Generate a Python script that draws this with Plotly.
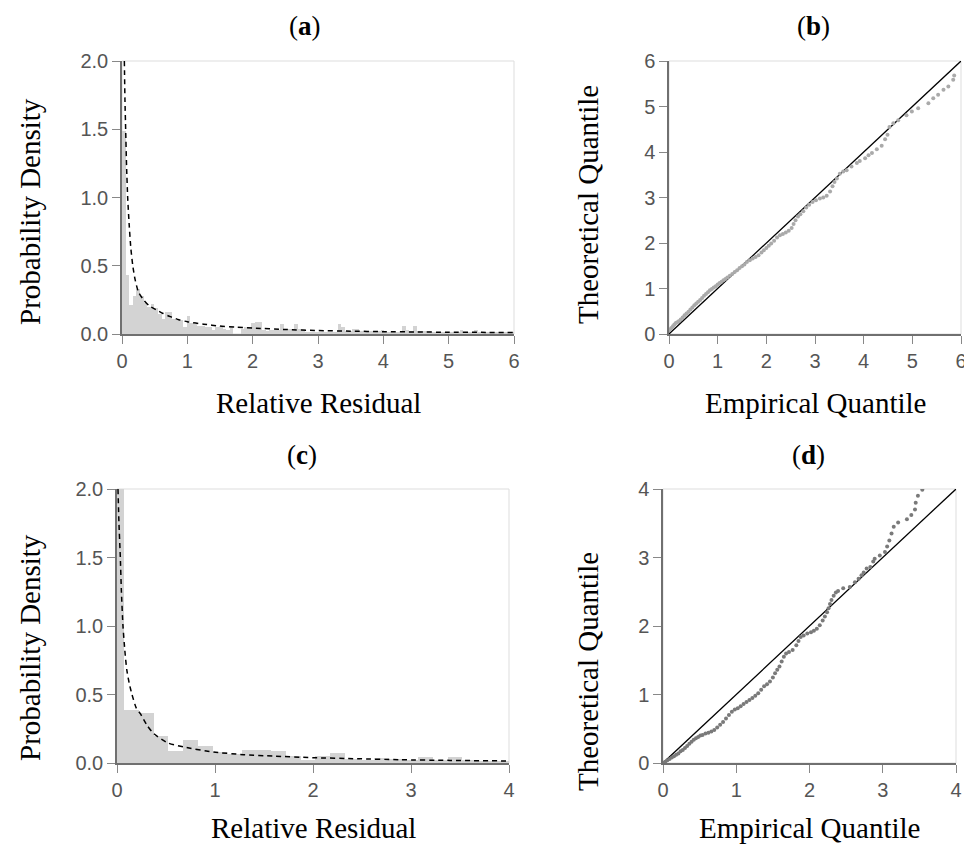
import numpy as np
import plotly.graph_objects as go

W, H = 964, 845

# ---------------- data ----------------
# (a) histogram of relative residual, bin width ~0.055 starting at 0
hist_a_width = 0.055
hist_a_heights = [
    1.49, 0.43, 0.21, 0.28, 0.33, 0.28, 0.23, 0.20, 0.22, 0.19,
    0.15, 0.11, 0.16, 0.16, 0.11, 0.10, 0.10, 0.05, 0.13, 0.08,
    0.07, 0.06, 0.06, 0.05, 0.05, 0.03, 0.05, 0.06, 0.04, 0.03,
    0.05, 0.00, 0.00, 0.04, 0.05, 0.05, 0.08, 0.085, 0.085, 0.03,
    0.02, 0.03, 0.03, 0.03, 0.07, 0.035, 0.035, 0.035, 0.073, 0.035,
    0.035, 0.017, 0.017, 0.017, 0.017, 0.017, 0.017, 0.017, 0.017, 0.017,
    0.073, 0.05, 0.02, 0.02, 0.04, 0.04, 0.02, 0.02, 0.02, 0.02,
    0.02, 0.02, 0.03, 0.017, 0.017, 0.017, 0.017, 0.017, 0.06, 0.03,
    0.02, 0.06, 0.025, 0.025, 0.025, 0.025, 0.017, 0.017, 0.017, 0.017,
    0.017, 0.017, 0.017, 0.017, 0.03, 0.017, 0.017, 0.017, 0.03, 0.012,
    0.012, 0.012, 0.012, 0.012, 0.012, 0.012, 0.012, 0.012, 0.012,
]
# (a) fitted density curve
curve_a_x = [0.036, 0.045, 0.056, 0.07, 0.087, 0.11, 0.135, 0.165, 0.2, 0.25,
             0.33, 0.42, 0.53, 0.63, 0.74, 0.87, 1.0, 1.25, 1.5, 1.75, 2.0,
             2.5, 3.0, 3.5, 4.0, 4.5, 5.0, 5.5, 6.0]
curve_a_y = [2.0, 1.72, 1.5, 1.23, 1.0, 0.80, 0.63, 0.5, 0.4, 0.31,
             0.25, 0.205, 0.176, 0.15, 0.127, 0.105, 0.09, 0.072, 0.058, 0.05, 0.044,
             0.033, 0.025, 0.021, 0.017, 0.015, 0.013, 0.012, 0.011]

# (b) QQ plot: empirical vs theoretical quantile
qq_b_emp = [0.00, 0.02, 0.05, 0.08, 0.11, 0.14, 0.17, 0.20, 0.24, 0.28,
            0.32, 0.36, 0.40, 0.44, 0.48, 0.52, 0.56, 0.60, 0.64, 0.68,
            0.72, 0.76, 0.80, 0.84, 0.88, 0.92, 0.96, 1.00, 1.04, 1.08,
            1.12, 1.16, 1.20, 1.25, 1.30, 1.35, 1.40, 1.45, 1.50, 1.55,
            1.60, 1.66, 1.72, 1.78, 1.84, 1.90, 1.95, 2.00, 2.05, 2.10,
            2.16, 2.22, 2.28, 2.34, 2.40, 2.46, 2.52, 2.56, 2.60, 2.65,
            2.70, 2.76, 2.82, 2.88, 2.95, 3.02,
            3.10, 3.17, 3.24, 3.31, 3.36, 3.40, 3.45, 3.51, 3.58, 3.65,
            3.75, 3.86, 3.92, 4.03, 4.10, 4.17, 4.27, 4.37, 4.44, 4.49,
            4.53, 4.61, 4.71, 4.88, 4.99, 5.12, 5.33, 5.43, 5.53, 5.64,
            5.74, 5.84, 5.86]
qq_b_theo = [0.08, 0.10, 0.13, 0.17, 0.21, 0.24, 0.26, 0.28, 0.32, 0.36,
             0.41, 0.45, 0.49, 0.54, 0.58, 0.63, 0.67, 0.71, 0.75, 0.79,
             0.84, 0.88, 0.92, 0.96, 0.99, 1.02, 1.05, 1.09, 1.12, 1.15,
             1.18, 1.21, 1.24, 1.28, 1.32, 1.36, 1.40, 1.45, 1.49, 1.53,
             1.58, 1.62, 1.66, 1.69, 1.73, 1.79, 1.84, 1.89, 1.94, 1.99,
             2.05, 2.12, 2.17, 2.20, 2.23, 2.27, 2.33, 2.42, 2.50, 2.58,
             2.63, 2.70, 2.78, 2.84, 2.90, 2.94,
             2.98, 3.00, 3.04, 3.13, 3.25, 3.34, 3.42, 3.52, 3.57, 3.60,
             3.68, 3.76, 3.80, 3.86, 3.93, 3.98, 4.06, 4.14, 4.28, 4.38,
             4.55, 4.63, 4.70, 4.81, 4.89, 4.96, 5.07, 5.18, 5.26, 5.37,
             5.44, 5.59, 5.68]
ref_b = [0, 6]

# (c) histogram, bins of width 0.15 centred at 0, 0.15, 0.30, ...
hist_c_width = 0.15
hist_c_heights = [2.6, 0.39, 0.365, 0.195, 0.085, 0.166, 0.122, 0.08, 0.063, 0.093,
                  0.093, 0.085, 0.049, 0.02, 0.049, 0.073, 0.03, 0.024, 0.034, 0.03,
                  0.02, 0.044, 0.02, 0.044, 0.02, 0.015, 0.015, 0.015]
curve_c_x = [0.01, 0.02, 0.034, 0.045, 0.061, 0.08, 0.1, 0.125, 0.153, 0.197,
             0.238, 0.306, 0.374, 0.51, 0.68, 0.985, 1.29, 1.6, 2.0, 2.45,
             2.89, 3.4, 4.0]
curve_c_y = [2.0, 1.75, 1.5, 1.25, 1.0, 0.82, 0.68, 0.58, 0.5, 0.4,
             0.36, 0.276, 0.215, 0.149, 0.117, 0.08, 0.061, 0.05, 0.039, 0.031,
             0.024, 0.019, 0.015]

# (d) QQ plot
qq_d_emp = [0.00, 0.03, 0.06, 0.09, 0.12, 0.15, 0.18, 0.21, 0.24, 0.27,
            0.30, 0.33, 0.36, 0.39, 0.42, 0.45, 0.48, 0.51, 0.54, 0.58,
            0.62, 0.66, 0.70, 0.74, 0.78, 0.82, 0.86, 0.90, 0.94, 0.98,
            1.02, 1.06, 1.10, 1.14, 1.18, 1.22, 1.26, 1.30, 1.34, 1.38,
            1.42, 1.46, 1.50, 1.53, 1.56, 1.59, 1.62, 1.65, 1.68, 1.72,
            1.77, 1.82, 1.85, 1.88, 1.92, 1.97, 2.02, 2.06, 2.10, 2.14,
            2.18, 2.21, 2.24, 2.26, 2.28, 2.30, 2.33, 2.36, 2.39,
            2.46, 2.55, 2.62, 2.67, 2.71, 2.74, 2.78, 2.83, 2.87, 2.89,
            2.96, 3.03, 3.06, 3.09, 3.12, 3.15, 3.21, 3.33, 3.39, 3.44,
            3.45, 3.48, 3.54]
qq_d_theo = [0.00, 0.02, 0.04, 0.06, 0.08, 0.10, 0.12, 0.14, 0.17, 0.19,
             0.22, 0.25, 0.28, 0.31, 0.34, 0.36, 0.38, 0.40, 0.41, 0.43,
             0.44, 0.46, 0.48, 0.52, 0.56, 0.60, 0.65, 0.70, 0.75, 0.78,
             0.80, 0.83, 0.86, 0.89, 0.92, 0.95, 0.98, 1.02, 1.07, 1.12,
             1.15, 1.19, 1.25, 1.31, 1.36, 1.41, 1.48, 1.55, 1.60, 1.62,
             1.65, 1.72, 1.78, 1.84, 1.86, 1.89, 1.91, 1.93, 1.96, 2.01,
             2.08, 2.14, 2.20, 2.26, 2.32, 2.38, 2.44, 2.49, 2.51,
             2.55, 2.57, 2.64, 2.69, 2.74, 2.78, 2.84, 2.86, 2.94, 2.98,
             3.03, 3.08, 3.16, 3.25, 3.35, 3.45, 3.51, 3.56, 3.62, 3.70,
             3.80, 3.90, 3.99]
ref_d = [0, 4]

panel_titles = ["a", "b", "c", "d"]
x_titles = ["Relative Residual", "Empirical Quantile", "Relative Residual", "Empirical Quantile"]
y_titles = ["Probability Density", "Theoretical Quantile", "Probability Density", "Theoretical Quantile"]

# ---------------- layout helpers ----------------
SERIF = "Liberation Serif, Times New Roman, serif"
SANS = "Liberation Sans, Arial, sans-serif"
BAR_COLOR = "#d3d3d3"

# plot-area boxes in pixels: (left, right, top, bottom)
boxes = [(122, 514, 61, 334), (669, 961, 61, 334), (117, 509, 489, 763), (663, 956, 489, 763)]

def xd(l, r):
    return [l / W, r / W]

def yd(t, b):
    return [1 - b / H, 1 - t / H]

fig = go.Figure()

# (a)
edges_a = np.arange(len(hist_a_heights)) * hist_a_width
fig.add_trace(go.Bar(x=edges_a, y=hist_a_heights, width=hist_a_width, offset=0,
                     marker=dict(color=BAR_COLOR, line=dict(width=0)),
                     xaxis="x", yaxis="y", showlegend=False))
fig.add_trace(go.Scatter(x=curve_a_x, y=curve_a_y, mode="lines",
                         line=dict(color="black", width=1.5, dash="5px,4px", shape="spline", smoothing=0.6),
                         xaxis="x", yaxis="y", showlegend=False))
# (b)
fig.add_trace(go.Scatter(x=ref_b, y=ref_b, mode="lines", line=dict(color="black", width=1.3),
                         xaxis="x2", yaxis="y2", showlegend=False))
fig.add_trace(go.Scatter(x=qq_b_emp, y=qq_b_theo, mode="markers",
                         marker=dict(color="#aaaaaa", size=4, line=dict(width=0)),
                         xaxis="x2", yaxis="y2", showlegend=False))
# (c)
centers_c = np.arange(len(hist_c_heights)) * hist_c_width
fig.add_trace(go.Bar(x=centers_c, y=hist_c_heights, width=hist_c_width,
                     marker=dict(color=BAR_COLOR, line=dict(width=0)),
                     xaxis="x3", yaxis="y3", showlegend=False))
fig.add_trace(go.Scatter(x=curve_c_x, y=curve_c_y, mode="lines",
                         line=dict(color="black", width=1.5, dash="5px,4px", shape="spline", smoothing=0.6),
                         xaxis="x3", yaxis="y3", showlegend=False))
# (d)
fig.add_trace(go.Scatter(x=ref_d, y=ref_d, mode="lines", line=dict(color="black", width=1.3),
                         xaxis="x4", yaxis="y4", showlegend=False))
fig.add_trace(go.Scatter(x=qq_d_emp, y=qq_d_theo, mode="markers",
                         marker=dict(color="#7a7a7a", size=4, line=dict(width=0)),
                         xaxis="x4", yaxis="y4", showlegend=False))

axis_common = dict(showgrid=False, zeroline=False, showline=True, linecolor="#707070", linewidth=1.5,
                   ticks="outside", ticklen=8, tickcolor="#888888", tickwidth=1,
                   automargin=False, ticklabeloverflow="allow",
                   tickfont=dict(family=SANS, size=20, color="#555555"))

ranges = [((0, 6), (0, 2.0), 1, 0.5, ".1f"),
          ((0, 6), (0, 6), 1, 1, "d"),
          ((0, 4), (0, 2.0), 1, 0.5, ".1f"),
          ((0, 4), (0, 4), 1, 1, "d")]

layout = dict(template="none", width=W, height=H, margin=dict(l=0, r=0, t=0, b=0, pad=0),
              paper_bgcolor="white", plot_bgcolor="white", bargap=0, showlegend=False)
annotations = []
shapes = []
for i, (box, rg) in enumerate(zip(boxes, ranges)):
    l, r, t, b = box
    sfx = "" if i == 0 else str(i + 1)
    xr, yr, dx, dy, fmt = rg
    layout["xaxis" + sfx] = dict(axis_common, domain=xd(l, r), range=list(xr), dtick=dx, tick0=0,
                                 anchor="y" + sfx, ticklabelstandoff=0)
    layout["yaxis" + sfx] = dict(axis_common, domain=yd(t, b), range=list(yr), dtick=dy, tick0=0,
                                 tickformat=fmt, anchor="x" + sfx, ticklabelstandoff=0)
    shapes.append(dict(type="rect", xref="x" + sfx + " domain", yref="y" + sfx + " domain",
                       x0=0, x1=1, y0=0, y1=1, line=dict(color="#dddddd", width=1), layer="below"))
    cx = (l + r) / 2
    # panel title
    tx = [305, 813, 302, 808][i]
    ty = [26, 26, 455, 455][i]
    annotations.append(dict(text="(<b>%s</b>)" % panel_titles[i], x=tx / W, y=1 - ty / H,
                            xref="paper", yref="paper", showarrow=False,
                            xanchor="center", yanchor="middle",
                            font=dict(family=SERIF, size=27, color="black")))
    # x title
    xty = [403, 403, 828, 828][i]
    annotations.append(dict(text=x_titles[i], x=cx / W, y=1 - xty / H, xref="paper", yref="paper",
                            showarrow=False, xanchor="center", yanchor="middle",
                            font=dict(family=SERIF, size=29, color="black")))
    # y title
    ytx = [30, 588, 30, 588][i]
    yty = [212, 205, 648, 672][i]
    annotations.append(dict(text=y_titles[i], x=ytx / W, y=1 - yty / H, xref="paper", yref="paper",
                            showarrow=False, xanchor="center", yanchor="middle", textangle=-90,
                            font=dict(family=SERIF, size=29, color="black")))

layout["annotations"] = annotations
layout["shapes"] = shapes
fig.update_layout(**layout)
fig.write_html("out.html", config={"displayModeBar": False},
               post_script="document.body.style.margin='0px';document.body.style.overflow='hidden';")
